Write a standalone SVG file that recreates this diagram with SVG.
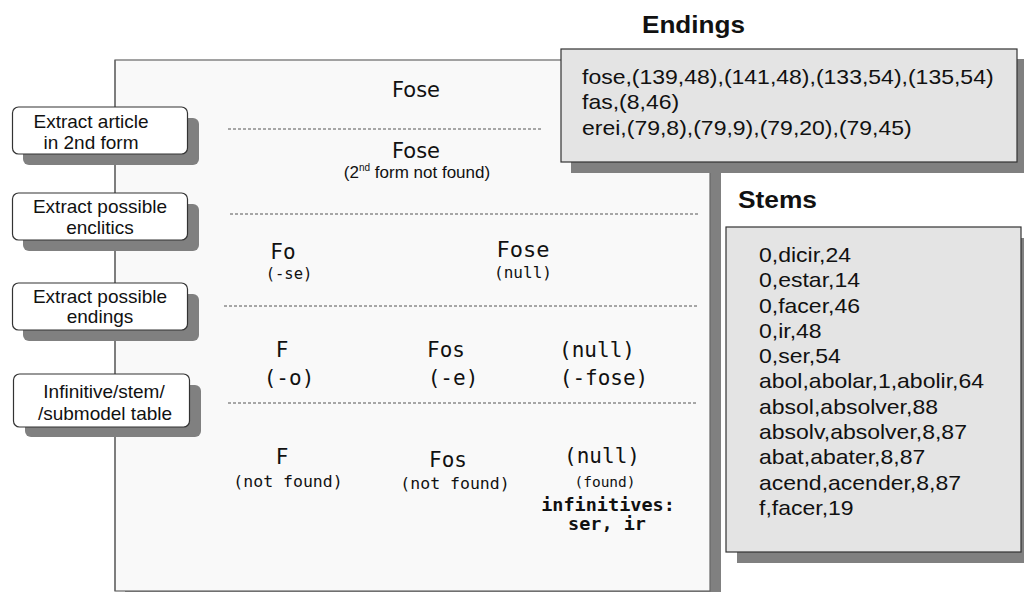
<svg xmlns="http://www.w3.org/2000/svg" width="1024" height="592" viewBox="0 0 1024 592">
<style>
.shadow{fill:#808080}
.node{fill:#fff;stroke:#333;stroke-width:1.2}
.nt{font-family:"Liberation Sans",Arial,sans-serif;font-size:19px;fill:#111;text-anchor:middle}
.tbl{fill:#e4e4e4;stroke:#333;stroke-width:1.2}
.dl{stroke:#555;stroke-width:1;stroke-dasharray:3 2;fill:none}
.sans{font-family:"DejaVu Sans",sans-serif;fill:#111;text-anchor:middle}
.mono{font-family:"DejaVu Sans Mono",monospace;fill:#111;text-anchor:middle}
.lt{font-family:"Liberation Sans",Arial,sans-serif;font-size:20px;fill:#111}
.title{font-family:"Liberation Sans",Arial,sans-serif;font-weight:bold;fill:#111}
</style>
<rect width="1024" height="592" fill="#fff"/>

<g id="analysis-panel">
  <rect class="shadow" x="125" y="70" width="596" height="531"/>
  <rect x="115" y="60" width="595" height="531" fill="#f9f9f9" stroke="#666" stroke-width="1.2"/>
  <line class="dl" x1="228" y1="129" x2="542" y2="129"/>
  <line class="dl" x1="230" y1="214" x2="698" y2="214"/>
  <line class="dl" x1="224" y1="306" x2="698" y2="306"/>
  <line class="dl" x1="228" y1="403" x2="697" y2="403"/>

  <text class="sans" x="416" y="97" font-size="21">Fose</text>
  <text class="sans" x="416" y="158" font-size="21">Fose</text>
  <text x="417" y="178" font-family="Liberation Sans, Arial, sans-serif" font-size="17" fill="#111" text-anchor="middle">(2<tspan font-size="10" dy="-7">nd</tspan><tspan dy="7"> form not found)</tspan></text>

  <text class="mono" x="283" y="259" font-size="21">Fo</text>
  <text class="mono" x="289" y="279" font-size="15.5">(-se)</text>
  <text class="mono" x="523" y="257" font-size="22">Fose</text>
  <text class="mono" x="523" y="278" font-size="16">(null)</text>

  <text class="mono" x="282" y="357" font-size="21">F</text>
  <text class="mono" x="289" y="385" font-size="21">(-o)</text>
  <text class="mono" x="446" y="357" font-size="21">Fos</text>
  <text class="mono" x="453" y="385" font-size="21">(-e)</text>
  <text class="mono" x="597" y="357" font-size="21">(null)</text>
  <text class="mono" x="604" y="385" font-size="21">(-fose)</text>

  <text class="mono" x="282" y="464" font-size="21">F</text>
  <text class="mono" x="288" y="487" font-size="16.5">(not found)</text>
  <text class="mono" x="448" y="467" font-size="21">Fos</text>
  <text class="mono" x="455" y="489" font-size="16.5">(not found)</text>
  <text class="mono" x="602" y="463" font-size="21">(null)</text>
  <text class="mono" x="605" y="487" font-size="14.5">(found)</text>
  <text class="mono" x="608" y="511" font-size="18.5" font-weight="bold">infinitives:</text>
  <text class="mono" x="607" y="530" font-size="18.5" font-weight="bold">ser, ir</text>
</g>

<g id="connectors">
  <line x1="115" y1="60" x2="115" y2="591" stroke="#666" stroke-width="1.2"/>
</g>

<g id="node-extract-article">
  <rect class="shadow" x="23" y="118" width="176" height="47" rx="6"/>
  <rect class="node" x="12.5" y="107" width="175" height="47" rx="6"/>
  <text class="nt" x="91" y="128">Extract article</text>
  <text class="nt" x="91" y="149">in 2nd form</text>
</g>

<g id="node-enclitics">
  <rect class="shadow" x="23" y="204" width="176" height="47" rx="6"/>
  <rect class="node" x="12.5" y="193" width="175" height="47" rx="6"/>
  <text class="nt" x="100" y="213">Extract possible</text>
  <text class="nt" x="100" y="234">enclitics</text>
</g>

<g id="node-endings">
  <rect class="shadow" x="23" y="294" width="176" height="47" rx="6"/>
  <rect class="node" x="12.5" y="283" width="175" height="47" rx="6"/>
  <text class="nt" x="100" y="303">Extract possible</text>
  <text class="nt" x="100" y="323">endings</text>
</g>

<g id="node-table">
  <rect class="shadow" x="25" y="385" width="176" height="52" rx="6"/>
  <rect class="node" x="13.5" y="374" width="176" height="53" rx="6"/>
  <text class="nt" x="104" y="398">Infinitive/stem/</text>
  <text class="nt" x="105" y="420">/submodel table</text>
</g>

<g id="endings">
  <text class="title" x="642" y="33" font-size="24" textLength="103" lengthAdjust="spacingAndGlyphs">Endings</text>
  <rect class="shadow" x="571" y="59" width="456" height="114"/>
  <rect class="tbl" x="561" y="49" width="456" height="113"/>
  <g transform="translate(582,0) scale(1.15,1)">
    <text class="lt" x="0" y="84">fose,(139,48),(141,48),(133,54),(135,54)</text>
    <text class="lt" x="0" y="109.5">fas,(8,46)</text>
    <text class="lt" x="0" y="135">erei,(79,8),(79,9),(79,20),(79,45)</text>
  </g>
</g>

<g id="stems">
  <text class="title" x="738" y="208" font-size="23" textLength="79" lengthAdjust="spacingAndGlyphs">Stems</text>
  <rect class="shadow" x="737" y="238" width="295" height="325"/>
  <rect class="tbl" x="726" y="227" width="295" height="325"/>
  <g transform="translate(759,0) scale(1.15,1)">
    <text class="lt" x="0" y="262">0,dicir,24</text>
    <text class="lt" x="0" y="287.3">0,estar,14</text>
    <text class="lt" x="0" y="312.6">0,facer,46</text>
    <text class="lt" x="0" y="337.9">0,ir,48</text>
    <text class="lt" x="0" y="363.2">0,ser,54</text>
    <text class="lt" x="0" y="388.5">abol,abolar,1,abolir,64</text>
    <text class="lt" x="0" y="413.8">absol,absolver,88</text>
    <text class="lt" x="0" y="439.1">absolv,absolver,8,87</text>
    <text class="lt" x="0" y="464.4">abat,abater,8,87</text>
    <text class="lt" x="0" y="489.7">acend,acender,8,87</text>
    <text class="lt" x="0" y="515">f,facer,19</text>
  </g>
</g>
</svg>
